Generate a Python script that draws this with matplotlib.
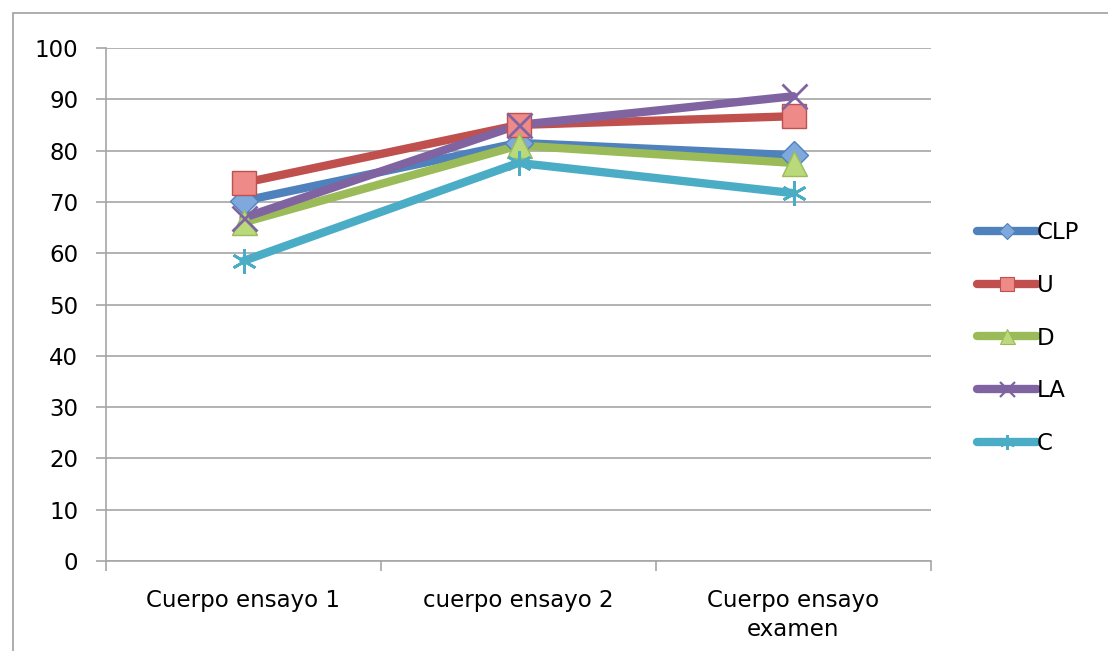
import matplotlib
matplotlib.use("Agg")
import matplotlib.pyplot as plt
from matplotlib.patches import Rectangle
from matplotlib.lines import Line2D

categories = ["Cuerpo ensayo 1", "cuerpo ensayo 2", "Cuerpo ensayo\nexamen"]
series_names = ["CLP", "U", "D", "LA", "C"]
clp = [70.2, 81.5, 79.1]
u = [73.7, 85.0, 86.7]
d = [66.0, 81.0, 77.6]
la = [66.9, 85.0, 90.6]
c = [58.5, 77.6, 71.7]
y_ticks = list(range(0, 101, 10))

values = [clp, u, d, la, c]
colors = ["#4F81BD", "#C0504D", "#9BBB59", "#8064A2", "#4BACC6"]
marker_face = ["#7FA8DD", "#EE8A87", "#BAD97A", "#8064A2", "#4BACC6"]
markers = ["D", "s", "^", "x", (6, 2, 0)]
msizes = [14, 17, 18, 18, 18]

W, H = 1108, 651
fig = plt.figure(figsize=(W / 100, H / 100), dpi=100)
plt.rcParams["font.family"] = ["DejaVu Sans"]
FS = 16.5

# outer chart border
fig.patches.append(Rectangle((13 / W, -0.1), 1.2, 1 - 13 / H + 0.1,
                             transform=fig.transFigure, fill=False,
                             edgecolor="#A0A0A0", linewidth=1.2))

ax = fig.add_axes([106 / W, 1 - 561 / H, (931 - 106) / W, (561 - 48) / H])
x = [0.5, 1.5, 2.5]
ax.set_xlim(0, 3)
ax.set_ylim(0, 100)
ax.set_yticks(y_ticks)
ax.yaxis.grid(True, color="#A6A6A6", linewidth=1.2)
ax.set_axisbelow(True)
for s in ["top", "right"]:
    ax.spines[s].set_visible(False)
for s in ["left", "bottom"]:
    ax.spines[s].set_color("#A6A6A6")
    ax.spines[s].set_linewidth(1.2)
ax.set_xticks([0, 1, 2, 3])
ax.set_xticklabels([])
ax.set_xticks(x, minor=True)
ax.set_xticklabels(categories, minor=True, fontsize=FS, linespacing=1.35)
ax.tick_params(axis="x", which="minor", length=0, pad=20)
ax.tick_params(axis="x", which="major", length=7, color="#A6A6A6", width=1.2)
ax.tick_params(axis="y", length=7, color="#A6A6A6", width=1.2, labelsize=FS, pad=13)

handles = []
for name, vals, col, mf, mk, ms in zip(series_names, values, colors, marker_face, markers, msizes):
    ax.plot(x, vals, color=col, linewidth=6, solid_capstyle="round",
            solid_joinstyle="round", zorder=3)
    mew = 2.0 if mk in ("x", (6, 2, 0)) else 1.0
    ax.plot(x, vals, linestyle="none", marker=mk, markersize=ms,
            markerfacecolor=mf, markeredgecolor=col, markeredgewidth=mew, zorder=4)
    handles.append(Line2D([], [], color=col, linewidth=6, solid_capstyle="round",
                          marker=mk, markersize=ms * 0.6, markerfacecolor=mf,
                          markeredgecolor=col, markeredgewidth=mew * 0.8))

leg = fig.legend(handles, series_names, loc="center left",
                 bbox_to_anchor=(968 / W, 1 - 338 / H), frameon=False,
                 fontsize=FS, handlelength=2.6, handletextpad=0.0,
                 labelspacing=1.3, borderaxespad=0)

fig.savefig("out.png", dpi=100)
